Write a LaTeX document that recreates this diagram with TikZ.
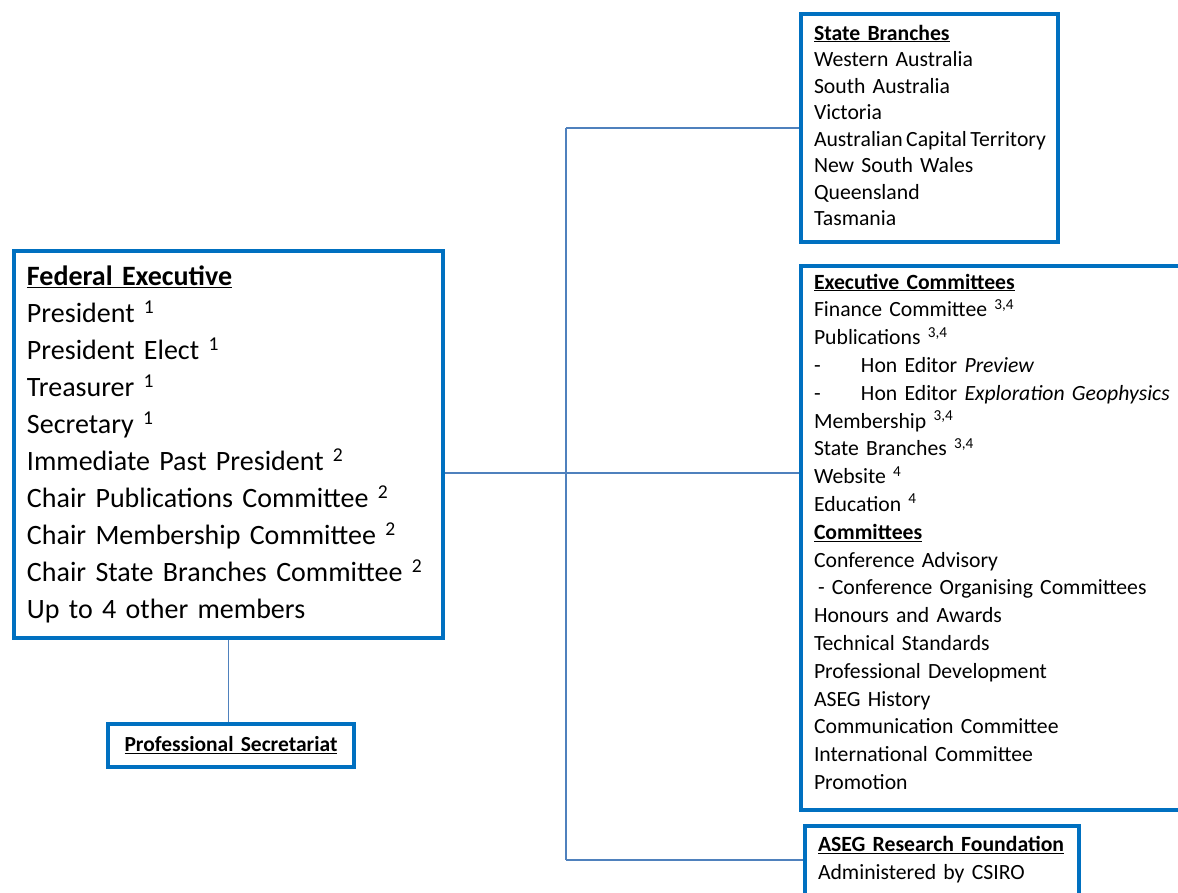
\documentclass[tikz,border=0pt]{standalone}
\usepackage{fontspec}
\setmainfont{Carlito}
\definecolor{boxblue}{RGB}{0,112,192}
\definecolor{linkblue}{RGB}{79,129,189}
\newcommand{\head}[1]{\underline{\textbf{#1}}}
\newcommand{\sn}[1]{\ \textsuperscript{#1}}
\tikzset{
  orgbox/.style={draw=boxblue, line width=4pt, align=left, anchor=north west,
    inner xsep=13pt, inner ysep=10pt, text=black},
  link/.style={draw=linkblue, line width=1.3pt}
}
\begin{document}
\begin{tikzpicture}[x=1pt,y=-1pt]
\useasboundingbox (0,0) rectangle (1178,892);

\node[orgbox, text width=403pt, minimum height=387pt,
  font=\fontsize{28}{37}\selectfont] (fedexec) at (12,249)
  {\head{Federal Executive}\\
   President\sn{1}\\
   President Elect\sn{1}\\
   Treasurer\sn{1}\\
   Secretary\sn{1}\\
   Immediate Past President\sn{2}\\
   Chair Publications Committee\sn{2}\\
   Chair Membership Committee\sn{2}\\
   Chair State Branches Committee\sn{2}\\
   Up to 4 other members};

\node[orgbox, align=center, text width=220pt, minimum height=43pt,
  font=\fontsize{21.5}{26}\selectfont] (secr) at (106,722)
  {\head{Professional Secretariat}};

% text height/depth fix the first baseline and the box height
\node[orgbox, text width=231pt, text height=16pt, text depth=192pt,
  font=\fontsize{21.7}{26.5}\selectfont] (branches) at (799,12)
  {\head{State Branches}\\
   Western Australia\\
   South Australia\\
   Victoria\\
   \mbox{\spaceskip=3.5pt Australian Capital Territory}\\
   New South Wales\\
   Queensland\\
   Tasmania};

\node[orgbox, text width=380pt, text height=13pt, text depth=511pt,
  font=\fontsize{21.7}{27.8}\selectfont] (exec) at (799,264)
  {\head{Executive Committees}\\
   Finance Committee\sn{3,4}\\
   Publications\sn{3,4}\\
   \makebox[47pt][l]{-}Hon Editor \textit{Preview}\\
   \makebox[47pt][l]{-}Hon Editor \textit{Exploration Geophysics}\\
   Membership\sn{3,4}\\
   State Branches\sn{3,4}\\
   Website\sn{4}\\
   Education\sn{4}\\
   \head{Committees}\\
   Conference Advisory\\
   \hspace{4pt}- Conference Organising Committees\\
   Honours and Awards\\
   Technical Standards\\
   Professional Development\\
   ASEG History\\
   Communication Committee\\
   International Committee\\
   Promotion};

\node[orgbox, text width=248pt, text height=15.7pt, text depth=44.3pt,
  font=\fontsize{21.7}{27.8}\selectfont] (aseg) at (803,824)
  {\head{ASEG Research Foundation}\\
   Administered by CSIRO};

\coordinate (hub) at (566,473);
\draw[link] (fedexec.east |- hub) -- (hub -| exec.west);
\draw[link] (branches.west -| hub) -- (branches.west);
\draw[link] ([yshift=6pt]aseg.west -| hub) -- ([yshift=6pt]aseg.west);
\draw[link] (branches.west -| hub) -- ([yshift=6pt]aseg.west -| hub);
\draw[link] (fedexec.south) -- (fedexec.south |- secr.north);

\end{tikzpicture}
\end{document}
